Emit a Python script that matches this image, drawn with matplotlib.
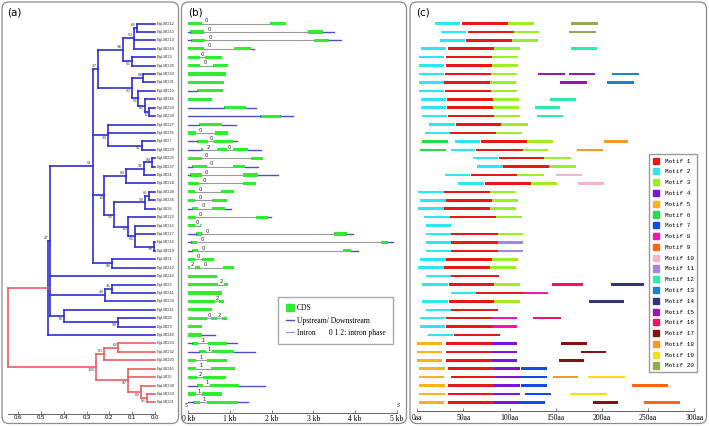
import matplotlib.pyplot as plt
from matplotlib.patches import FancyBboxPatch, Patch
from matplotlib.lines import Line2D

W, H = 709, 426
ROW0, ROW_STEP = 23.5, 8.42   # pixel row of first gene, pixels between rows

genes = ['EgLBD12', 'EgLBD13', 'EgLBD14', 'EgLBD44', 'EgLBD3', 'EgLBD26',
         'EgLBD30', 'EgLBD31', 'EgLBD10', 'EgLBD46', 'EgLBD33', 'EgLBD39',
         'EgLBD27', 'EgLBD35', 'EgLBD7', 'EgLBD29', 'EgLBD25', 'EgLBD37',
         'EgLBD4', 'EgLBD18', 'EgLBD28', 'EgLBD36', 'EgLBD6', 'EgLBD22',
         'EgLBD15', 'EgLBD17', 'EgLBD16', 'EgLBD19', 'EgLBD1', 'EgLBD42',
         'EgLBD43', 'EgLBD2', 'EgLBD41', 'EgLBD34', 'EgLBD11', 'EgLBD8',
         'EgLBD9', 'EgLBD40', 'EgLBD23', 'EgLBD32', 'EgLBD20', 'EgLBD45',
         'EgLBD5', 'EgLBD38', 'EgLBD24', 'EgLBD21']

# internal nodes: children, node height (distance), bootstrap
tree = {
    'a1': (['EgLBD12', 'EgLBD13'], 0.080, 63),
    'a2': (['a1', 'EgLBD14', 'EgLBD44'], 0.092, 50),
    'a3': (['EgLBD3', 'EgLBD26'], 0.102, 56),
    'a4': (['a2', 'a3'], 0.139, 98),
    'a5': (['EgLBD30', 'EgLBD31'], 0.051, 88),
    'a6': (['EgLBD33', 'EgLBD39'], 0.025, 72),
    'a7': (['EgLBD46', 'a6'], 0.044, 82),
    'a8': (['EgLBD10', 'a7'], 0.073, 56),
    'a9': (['a5', 'a8'], 0.100, 50),
    'a10': (['a4', 'a9'], 0.249, 27),
    'b1': (['EgLBD7', 'EgLBD29'], 0.058, 51),
    'b2': (['EgLBD27', 'EgLBD35', 'b1'], 0.205, 34),
    'c1': (['EgLBD25', 'EgLBD37'], 0.014, 84),
    'c2': (['c1', 'EgLBD4'], 0.048, 96),
    'c3': (['c2', 'EgLBD18'], 0.127, 84),
    'c4': (['EgLBD28', 'EgLBD36'], 0.026, 65),
    'c5': (['c4', 'EgLBD6'], 0.044, 93),
    'c6': (['EgLBD16', 'EgLBD19'], 0.004, 99),
    'c7': (['EgLBD15', 'EgLBD17', 'c6'], 0.088, 54),
    'c8': (['EgLBD22', 'c7'], 0.117, 66),
    'c9': (['c5', 'c8'], 0.182, 54),
    'c10': (['c3', 'c9'], 0.222, 19),
    'd1': (['EgLBD1', 'EgLBD42'], 0.190, 68),
    'd2': (['a10', 'b2', 'c10', 'd1'], 0.274, 51),
    'e1': (['EgLBD2', 'EgLBD41'], 0.190, 36),
    'e2': (['e1', 'EgLBD34'], 0.219, 49),
    'f1': (['EgLBD8', 'EgLBD9'], 0.161, 99),
    'f2': (['EgLBD11', 'f1'], 0.398, 78),
    'g1': (['d2', 'EgLBD43', 'e2', 'f2'], 0.461, 47),
    'blue': (['g1', 'EgLBD40'], 0.471, None),
    'r1': (['EgLBD23', 'EgLBD32'], 0.161, 63),
    'r2': (['r1', 'EgLBD20'], 0.224, 60),
    'r3': (['EgLBD24', 'EgLBD21'], 0.036, 55),
    'r4': (['EgLBD38', 'r3'], 0.063, 69),
    'r5': (['EgLBD45', 'EgLBD5', 'r4'], 0.117, 87),
    'red': (['r2', 'r5'], 0.260, 100),
    'root': (['blue', 'red'], 0.643, None),
}
red_nodes = {'r1', 'r2', 'r3', 'r4', 'r5', 'red', 'root'}

# gene structures (kb)
gene_length = [2.34, 3.49, 3.65, 1.58, 0.80, 0.96, 0.90, 0.86, 0.84, 0.58,
               1.62, 2.50, 1.14, 0.96, 1.16, 1.74, 1.80, 1.68, 2.14, 1.62,
               1.10, 0.92, 1.02, 1.98, 0.30, 3.94, 4.92, 4.06, 0.62, 1.10,
               0.70, 0.96, 0.82, 0.86, 0.58, 0.92, 0.34, 0.64, 1.16, 1.60,
               0.94, 1.12, 0.90, 1.84, 0.82, 1.42]
gene_exons = [
    [(0, 0.32), (1.96, 2.34)], [(0.04, 0.38), (2.88, 3.24)],
    [(0.06, 0.40), (3.02, 3.38)], [(0, 0.38), (1.10, 1.50)],
    [(0, 0.28), (0.40, 0.80)], [(0, 0.28), (0.60, 0.96)],
    [(0, 0.90)], [(0, 0.86)], [(0.22, 0.84)], [(0, 0.58)],
    [(0.86, 1.38)], [(1.72, 2.22)], [(0.26, 0.80)],
    [(0, 0.18), (0.64, 0.96)], [(0.20, 0.48), (0.62, 1.08)],
    [(0.30, 0.36), (0.68, 0.92), (1.06, 1.42)],
    [(0, 0.32), (1.50, 1.80)], [(0.08, 0.44), (1.06, 1.36)],
    [(0.04, 0.32), (1.32, 1.66)], [(0, 0.26), (1.30, 1.62)],
    [(0, 0.16), (0.78, 1.10)], [(0, 0.16), (0.56, 0.92)],
    [(0.08, 0.24), (0.58, 0.88)], [(0, 0.18), (1.62, 1.92)],
    [(0, 0.16), (0.27, 0.30)], [(0.18, 0.34), (3.49, 3.80)],
    [(0.06, 0.22), (4.61, 4.78)], [(0.08, 0.24), (3.70, 3.89)],
    [(0, 0.16), (0.32, 0.62)], [(0, 0.04), (0.16, 0.28), (0.84, 1.10)],
    [(0, 0.70)], [(0, 0.72), (0.86, 0.96)], [(0, 0.82)],
    [(0, 0.64), (0.74, 0.86)], [(0, 0.58)],
    [(0, 0.46), (0.54, 0.68), (0.80, 0.92)], [(0, 0.34)], [(0, 0.34)],
    [(0.08, 0.24), (0.48, 0.94)], [(0.26, 0.42), (0.56, 1.10)],
    [(0, 0.18), (0.44, 0.94)], [(0, 0.18), (0.54, 1.12)],
    [(0, 0.20), (0.36, 0.90)], [(0.20, 0.36), (0.52, 1.22)],
    [(0, 0.18), (0.32, 0.82)], [(0.12, 0.28), (0.46, 1.18)],
]
intron_phase = [[0], [0], [0], [0], [0], [0], [], [], [], [], [], [], [],
                [0], [0], [2, 0], [0], [0], [0], [0], [0], [0], [0], [0],
                [0], [0], [0], [0], [0], [2, 0], [], [2], [], [2], [],
                [0, 2], [], [], [1], [1], [1], [1], [2], [1], [1], [1]]

# conserved motifs: (motif, start aa, end aa)
motifs = [
    [(2, 19, 46), (1, 48, 98), (3, 98, 126), (20, 166, 196)],
    [(2, 26, 53), (1, 55, 105), (3, 105, 132), (20, 164, 194)],
    [(2, 25, 52), (1, 53, 103), (3, 103, 131)],
    [(2, 4, 31), (1, 33, 83), (3, 83, 111), (12, 167, 195)],
    [(2, 2, 29), (1, 31, 81), (3, 81, 109)],
    [(2, 2, 29), (1, 31, 81), (3, 81, 109)],
    [(2, 2, 29), (1, 30, 80), (3, 80, 108), (15, 131, 160), (15, 164, 193), (13, 211, 240)],
    [(2, 2, 29), (1, 29, 79), (3, 79, 107), (15, 155, 184), (13, 206, 235)],
    [(2, 2, 29), (1, 30, 80), (3, 80, 108)],
    [(2, 4, 31), (1, 32, 82), (3, 82, 110), (12, 144, 172)],
    [(2, 4, 31), (1, 32, 82), (3, 82, 110), (12, 128, 155)],
    [(2, 5, 32), (1, 33, 83), (3, 83, 111), (12, 130, 158)],
    [(2, 13, 41), (1, 42, 91), (3, 91, 120)],
    [(2, 8, 35), (1, 35, 85), (3, 85, 113)],
    [(6, 5, 33), (2, 41, 68), (1, 69, 119), (3, 119, 147), (18, 202, 228)],
    [(6, 3, 31), (2, 36, 63), (1, 64, 114), (3, 114, 142), (18, 173, 201)],
    [(2, 60, 87), (1, 88, 137), (3, 137, 166)],
    [(2, 65, 93), (1, 93, 143), (3, 143, 172)],
    [(2, 30, 57), (1, 58, 108), (3, 108, 137), (10, 150, 178)],
    [(2, 44, 72), (1, 73, 123), (3, 123, 151), (10, 174, 202)],
    [(2, 1, 29), (1, 29, 79), (3, 79, 107)],
    [(2, 3, 31), (1, 31, 81), (3, 81, 109)],
    [(2, 1, 29), (1, 29, 79), (3, 79, 107)],
    [(2, 7, 35), (1, 35, 85), (3, 85, 113)],
    [(2, 9, 37)],
    [(2, 9, 37), (1, 37, 87), (3, 87, 115)],
    [(2, 9, 37), (1, 37, 87), (11, 87, 115)],
    [(2, 9, 37), (1, 37, 87), (11, 87, 115)],
    [(2, 3, 31), (1, 31, 81), (3, 81, 109)],
    [(2, 1, 29), (1, 29, 79), (3, 79, 107)],
    [(2, 9, 37), (1, 37, 88)],
    [(2, 5, 33), (1, 34, 83), (3, 83, 111), (16, 146, 179), (14, 210, 246)],
    [(2, 36, 64), (1, 64, 114), (8, 114, 142)],
    [(2, 5, 33), (1, 34, 83), (3, 83, 111), (14, 186, 224)],
    [(2, 9, 36), (1, 37, 87)],
    [(2, 3, 30), (1, 31, 81), (8, 81, 108), (16, 125, 156)],
    [(2, 3, 30), (1, 31, 81), (8, 81, 108)],
    [(2, 12, 39), (1, 40, 90)],
    [(5, 0, 27), (1, 31, 81), (4, 81, 108), (17, 156, 184)],
    [(5, 0, 27), (1, 31, 81), (4, 81, 108), (17, 177, 204)],
    [(5, 0, 27), (1, 31, 81), (4, 81, 108), (17, 153, 181)],
    [(5, 2, 30), (1, 33, 83), (4, 83, 111), (7, 112, 140)],
    [(5, 2, 29), (1, 36, 85), (4, 85, 113), (7, 113, 141), (18, 147, 174), (19, 185, 225)],
    [(5, 2, 30), (1, 33, 83), (4, 83, 111), (7, 112, 140), (9, 233, 272)],
    [(5, 2, 30), (1, 33, 83), (4, 83, 111), (7, 117, 145), (19, 165, 205)],
    [(5, 2, 29), (1, 33, 83), (4, 83, 111), (7, 111, 138), (17, 190, 217), (9, 246, 285)],
]
motif_colors = ['#e81818', '#2ee6f2', '#9aee22', '#7a14dc', '#ffb01e',
                '#26dc4a', '#1448ee', '#ee18b0', '#ff6614', '#f5b2c8',
                '#a484e4', '#26eeaa', '#1a84cc', '#34347c', '#9c14b8',
                '#ee1466', '#841212', '#f59a24', '#f5de14', '#94aa52']

BLUE, RED = '#2e2ed2', '#ee5c5c'
GREEN, UTR, INTRON = '#30ec30', '#4e4ec8', '#9a9a9a'

fig = plt.figure(figsize=(W / 100, H / 100), dpi=100)


def add_px_axes(x0, x1, y0, y1):
    ax = fig.add_axes([x0 / W, 1 - y1 / H, (x1 - x0) / W, (y1 - y0) / H])
    ax.set_ylim((y1 - ROW0) / ROW_STEP, (y0 - ROW0) / ROW_STEP)
    for s in ['top', 'right', 'left']:
        ax.spines[s].set_visible(False)
    ax.spines['bottom'].set_color('#666666')
    ax.spines['bottom'].set_linewidth(0.7)
    ax.set_yticks([])
    ax.patch.set_alpha(0)
    ax.tick_params(axis='x', direction='in', length=2.5, width=0.6, color='#666666')
    return ax


# panel frames
for x0, x1 in [(2, 178.5), (181.5, 406.5), (410, 706.5)]:
    fig.add_artist(FancyBboxPatch((x0 / 100, (H - 423.5) / 100), (x1 - x0) / 100, 421.5 / 100,
                                  boxstyle='round,pad=0,rounding_size=0.07',
                                  transform=fig.dpi_scale_trans, fill=False,
                                  ec='#8c8c8c', lw=0.9))
for x, lab in [(7, '(a)'), (188, '(b)'), (416, '(c)')]:
    fig.text(x / W, 1 - 12.5 / H, lab, fontsize=7.5, va='center', ha='left')

# ---- (a) tree
ax_a = add_px_axes(5, 175, 10, 414)
ax_a.set_xlim(150 / 228, -20 / 228)

ypos = {g: i for i, g in enumerate(genes)}
height = {g: 0.0 for g in genes}
parent = {}


def place(node):
    if node in ypos:
        return ypos[node]
    kids = tree[node][0]
    ys = [place(k) for k in kids]
    for k in kids:
        parent[k] = node
    ypos[node] = (ys[0] + ys[-1]) / 2
    height[node] = tree[node][1]
    return ypos[node]


place('root')
for node, (kids, h, boot) in tree.items():
    col = RED if node in red_nodes else BLUE
    ax_a.plot([h, h], [ypos[kids[0]], ypos[kids[-1]]], color=col, lw=1.2)
    for k in kids:
        ax_a.plot([h, height[k]], [ypos[k], ypos[k]], color=col, lw=1.2)
    if boot is not None:
        first = tree[parent[node]][0][0] == node or node == 'e2'
        ax_a.annotate(str(boot), (h, ypos[node]), xytext=(-0.8, 2 if first else -2),
                      textcoords='offset points', ha='right', va='center',
                      fontsize=2.8, color='#444444')
for g in genes:
    ax_a.text(-0.006, ypos[g], g, fontsize=3, va='center', ha='left',
              family='Liberation Sans', color='#333333')
ax_a.spines['bottom'].set_bounds(0, 0.643)
tree_ticks = [0.6, 0.5, 0.4, 0.3, 0.2, 0.1, 0.0]
ax_a.set_xticks(tree_ticks, ['%.1f' % t for t in tree_ticks], fontsize=4.3,
                family='Liberation Sans')
ax_a.tick_params(axis='x', pad=1)

# ---- (b) gene structure
ax_b = add_px_axes(183, 400, 10, 413)
ax_b.set_xlim(-5.3 / 41.7, 211.7 / 41.7)
for i, (length, exons, phases) in enumerate(zip(gene_length, gene_exons, intron_phase)):
    if exons[0][0] > 0:
        ax_b.plot([0, exons[0][0]], [i, i], color=UTR, lw=1.0)
    if exons[-1][1] < length:
        ax_b.plot([exons[-1][1], length], [i, i], color=UTR, lw=1.0)
    for k in range(len(exons) - 1):
        a, b = exons[k][1], exons[k + 1][0]
        ax_b.plot([a, b], [i, i], color=INTRON, lw=0.8)
        if k < len(phases):
            ax_b.text(min(a + 0.12, (a + b) / 2), i - 0.33, str(phases[k]),
                      fontsize=3.8, ha='center', va='center', color='#222222')
    ax_b.barh([i] * len(exons), [e - s for s, e in exons], left=[s for s, e in exons],
              height=0.38, color=GREEN)
ax_b.spines['bottom'].set_bounds(0, 5)
ax_b.set_xticks(range(6), ['%d kb' % k for k in range(6)], fontsize=5.5,
                family='Liberation Serif')
ax_b.tick_params(axis='x', pad=1.5)
for x, lab in [(0, "5'"), (5, "3'")]:
    ax_b.annotate(lab, (x, 0), xycoords=('data', 'axes fraction'), xytext=(-1 if x == 0 else 1, 4.5),
                  textcoords='offset points', fontsize=4, ha='center', family='Liberation Serif')
ax_b.legend(handles=[Patch(color=GREEN),
                     Line2D([], [], color=UTR, lw=1.0),
                     Line2D([], [], color=INTRON, lw=0.9)],
            labels=['CDS', 'Upstream/ Downstream', 'Intron       0 1 2: intron phase'],
            loc='upper left', bbox_to_anchor=(278.3 / W, 1 - 296.7 / H),
            bbox_transform=fig.transFigure, borderaxespad=0, fancybox=False,
            edgecolor='#aaaaaa', framealpha=1,
            prop={'family': 'Liberation Serif', 'size': 5.5},
            handlelength=1.05, handleheight=1.05, handletextpad=0.4,
            labelspacing=0.52, borderpad=1.0)

# ---- (c) motifs
ax_c = add_px_axes(410, 700, 10, 410.7)
ax_c.set_xlim(-7.3 / 0.923, 282.7 / 0.923)
for i, row in enumerate(motifs):
    for m, s, e in row:
        ax_c.barh(i, e - s, left=s, height=0.3, color=motif_colors[m - 1])
ax_c.spines['bottom'].set_bounds(0, 300)
aa_ticks = [0, 50, 100, 150, 200, 250, 300]
ax_c.set_xticks(aa_ticks, ['%daa' % t for t in aa_ticks], fontsize=5.5,
                family='Liberation Serif')
ax_c.tick_params(axis='x', pad=2.5)
ax_c.legend(handles=[Patch(color=c) for c in motif_colors],
            labels=['Motif %d' % (k + 1) for k in range(20)],
            loc='upper left', bbox_to_anchor=(649.3 / W, 1 - 154.3 / H),
            bbox_transform=fig.transFigure, borderaxespad=0, fancybox=False,
            edgecolor='#999999', framealpha=1,
            prop={'family': 'Liberation Mono', 'size': 4.3},
            handlelength=1.15, handleheight=1.2, handletextpad=0.85,
            labelspacing=0.78, borderpad=0.55)

fig.savefig('out.png', dpi=100)
